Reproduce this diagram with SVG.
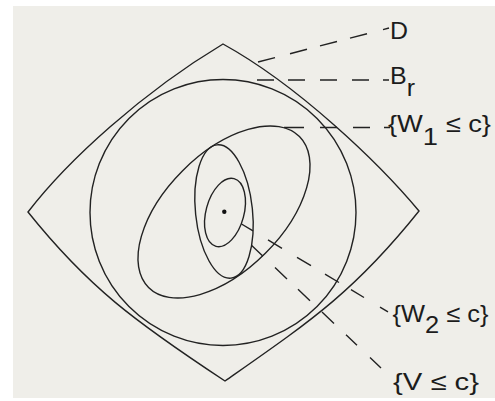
<svg xmlns="http://www.w3.org/2000/svg" width="495" height="401" viewBox="0 0 495 401">
<style>
.paper{fill:#efeee9}
.curve{fill:none;stroke:#222;stroke-width:1.4}
.leader{fill:none;stroke:#222;stroke-width:1.4}
.lbl{font-family:"Liberation Sans",Arial,sans-serif;font-size:24px;fill:#1c1c1c}
</style>
<rect width="495" height="401" fill="#ffffff"/>
<rect class="paper" x="13" y="6" width="482" height="392"/>
<g id="D">
<path class="curve" d="M28 212C68 160 143 92 223 44C298 85.3 379 163 419 211C354 292.25 310 321.5 225 381C135 321.6 88 287 28 212Z"/>
<text class="lbl" x="390" y="38.5" textLength="18" lengthAdjust="spacingAndGlyphs">D</text>
</g>
<g id="Br">
<circle class="curve" cx="223" cy="212.5" r="133"/>
<text class="lbl" x="390" y="83.5" textLength="25" lengthAdjust="spacingAndGlyphs">B<tspan dy="12">r</tspan></text>
</g>
<g id="W1">
<ellipse class="curve" cx="224" cy="212" rx="106.7" ry="58.5" transform="rotate(-45 224 212)"/>
<text class="lbl" x="388" y="132" textLength="103" lengthAdjust="spacingAndGlyphs">{W<tspan dy="13">1</tspan><tspan dy="-13"> ≤ c}</tspan></text>
</g>
<g id="W2">
<ellipse class="curve" cx="224" cy="211.5" rx="28.5" ry="67" transform="rotate(-6 224 211.5)"/>
<text class="lbl" x="392.5" y="322" textLength="96" lengthAdjust="spacingAndGlyphs">{W<tspan dy="11">2</tspan><tspan dy="-11"> ≤ c}</tspan></text>
</g>
<g id="V">
<ellipse class="curve" cx="225" cy="212.5" rx="19" ry="35" transform="rotate(15 225 212.5)"/>
<text class="lbl" x="393" y="390" textLength="86" lengthAdjust="spacingAndGlyphs">{V ≤ c}</text>
</g>
<g id="center">
<circle cx="224.3" cy="211.7" r="2.2" fill="#111"/>
</g>
<g id="connectors">
<path class="leader" d="M258 62L275 57.6M290 53.7L307 49.3M320 45.9L337 41.5M350 38.1L367 33.7M383 29.6L389 28"/>
<path class="leader" d="M257 80L274 80M288 80L305 80M320 80L337 80M352 80L369 80M383 80L389 80"/>
<path class="leader" d="M284 127.5L304 127.5M320 127.5L337 127.5M353 127.5L370 127.5M384 127.5L390 127.5"/>
<path class="leader" d="M241.5 224L253 230.9M268 239.9L282 248.3M297 257.3L311 265.7M325 274.1L339 282.5M351 289.7L364 297.5M380 307.1L388 311.9"/>
<path class="leader" d="M251.7 245.5L263 256.2M275 267.6L287 279M298 289.3L310 300.7M322 312.1L334 323.4M346 334.8L357 345.2M370 357.5L381 367.9"/>
</g>
</svg>
